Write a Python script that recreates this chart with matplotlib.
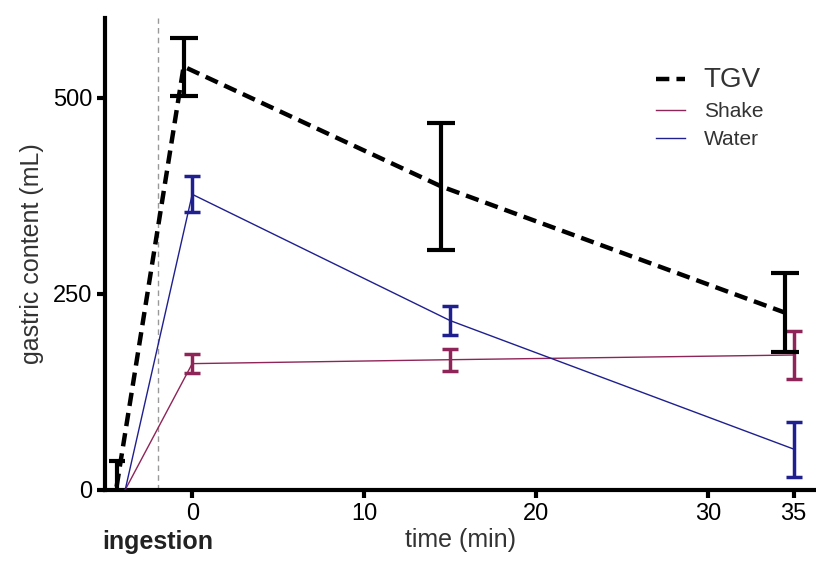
import numpy as np
import matplotlib
matplotlib.use("Agg")
import matplotlib.pyplot as plt
from matplotlib.transforms import blended_transform_factory

plt.rcParams['font.family'] = ['Liberation Sans', 'DejaVu Sans']

# data (mL); ingestion = first point
tgv_time = [-4.4, -0.5, 14.5, 34.5]
tgv_mean = [4, 540, 387, 226]
tgv_sd = [33, 37, 81, 50]

liq_time = [-3.9, 0, 15, 35]
shake_mean = [0, 161, 166, 172]
shake_sd = [0, 12, 14, 30]
water_mean = [0, 377, 216, 52]
water_sd = [0, 23, 18, 35]

ingestion_time = -2.0
xticks = [0, 10, 20, 30, 35]
yticks = [0, 250, 500]

shake_col = "#8e2457"
water_col = "#1f1f8f"
txt_col = "#333333"

fig = plt.figure(figsize=(8.16, 5.79), dpi=100)
ax = fig.add_axes([0.129, 0.154, 0.871, 0.815])

# ingestion marker
ax.axvline(ingestion_time, ymax=1, color="#999999", lw=1, dashes=(4, 3), zorder=1)

ax.plot(liq_time, shake_mean, color=shake_col, lw=1, label="Shake", zorder=3)
ax.errorbar(liq_time[1:], shake_mean[1:], yerr=shake_sd[1:], fmt="none",
            ecolor=shake_col, elinewidth=2.5, capsize=6, capthick=2.5, zorder=3)
ax.plot(liq_time, water_mean, color=water_col, lw=1, label="Water", zorder=3)
ax.errorbar(liq_time[1:], water_mean[1:], yerr=water_sd[1:], fmt="none",
            ecolor=water_col, elinewidth=2.5, capsize=6, capthick=2.5, zorder=3)

ax.plot(tgv_time, tgv_mean, color="black", lw=3.2, dashes=(3, 1.6), label="TGV", zorder=4)
ax.errorbar(tgv_time[:1], tgv_mean[:1], yerr=tgv_sd[:1], fmt="none", ecolor="black",
            elinewidth=3, capsize=6, capthick=3, zorder=4)
ax.errorbar(tgv_time[1:], tgv_mean[1:], yerr=tgv_sd[1:], fmt="none", ecolor="black",
            elinewidth=3, capsize=10, capthick=3, zorder=4)

ax.set_xlim(-5.06, 36.3)
ax.set_ylim(0, 602)
ax.set_xticks(xticks)
ax.set_yticks(yticks)

for s in ["top", "right"]:
    ax.spines[s].set_visible(False)
for s in ["left", "bottom"]:
    ax.spines[s].set_linewidth(3)
ax.tick_params(width=3, length=6, labelsize=17, colors="black")

ax.set_xlabel("time (min)", fontsize=18, color=txt_col, labelpad=2)
ax.set_ylabel("gastric content (mL)", fontsize=18, color=txt_col, labelpad=6)

tr = blended_transform_factory(ax.transData, ax.transAxes)
ax.text(ingestion_time, -0.11, "ingestion", transform=tr, ha="center", va="center",
        fontsize=18, fontweight="bold", color="#222222")

handles, labels = ax.get_legend_handles_labels()
order = [2, 0, 1]
leg = ax.legend([handles[i] for i in order], [labels[i] for i in order],
                loc="upper left", bbox_to_anchor=(637 / 816, 1 - 48 / 579),
                bbox_transform=fig.transFigure, frameon=False, fontsize=15,
                handlelength=1.4, handletextpad=0.9, labelspacing=0.45)
for t in leg.get_texts():
    t.set_color(txt_col)
leg.get_texts()[0].set_fontsize(20)

fig.savefig("out.png", dpi=100)
